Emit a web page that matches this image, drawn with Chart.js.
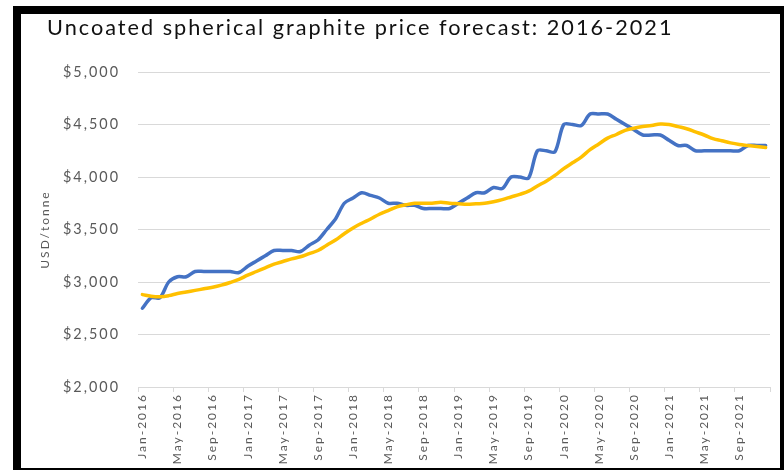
<!DOCTYPE html>
<html><head><meta charset="utf-8">
<script src="https://cdn.jsdelivr.net/npm/chart.js@4.4.0/dist/chart.umd.min.js"></script>
<style>
html,body{margin:0;padding:0;background:#fff;overflow:hidden;}
#wrap{position:relative;width:784px;height:470px;}
#frame{position:absolute;left:13px;top:6px;width:759px;height:454px;border:8px solid #000;pointer-events:none;}
canvas{display:block;}
</style></head><body>
<div id="wrap"><canvas id="c" width="784" height="470"></canvas><div id="frame"></div></div>
<script>
const titleText = 'Uncoated spherical graphite price forecast: 2016-2021';
const yAxisTitle = 'USD/tonne';
const months = [
 'Jan-2016','Feb-2016','Mar-2016','Apr-2016','May-2016','Jun-2016','Jul-2016','Aug-2016','Sep-2016','Oct-2016','Nov-2016','Dec-2016',
 'Jan-2017','Feb-2017','Mar-2017','Apr-2017','May-2017','Jun-2017','Jul-2017','Aug-2017','Sep-2017','Oct-2017','Nov-2017','Dec-2017',
 'Jan-2018','Feb-2018','Mar-2018','Apr-2018','May-2018','Jun-2018','Jul-2018','Aug-2018','Sep-2018','Oct-2018','Nov-2018','Dec-2018',
 'Jan-2019','Feb-2019','Mar-2019','Apr-2019','May-2019','Jun-2019','Jul-2019','Aug-2019','Sep-2019','Oct-2019','Nov-2019','Dec-2019',
 'Jan-2020','Feb-2020','Mar-2020','Apr-2020','May-2020','Jun-2020','Jul-2020','Aug-2020','Sep-2020','Oct-2020','Nov-2020','Dec-2020',
 'Jan-2021','Feb-2021','Mar-2021','Apr-2021','May-2021','Jun-2021','Jul-2021','Aug-2021','Sep-2021','Oct-2021','Nov-2021','Dec-2021'
];
const priceSeries = [
 2750,2850,2850,3000,3050,3050,3100,3100,3100,3100,3100,3090,
 3150,3200,3250,3300,3300,3300,3290,3350,3400,3500,3600,3750,
 3800,3850,3825,3800,3750,3750,3730,3730,3700,3700,3700,3700,
 3750,3800,3850,3850,3900,3890,4000,4000,3990,4250,4250,4240,
 4500,4500,4490,4600,4600,4600,4550,4500,4450,4400,4400,4400,
 4350,4300,4300,4250,4250,4250,4250,4250,4250,4300,4300,4300
];
const trendSeries = [
 2880,2865,2860,2870,2890,2905,2920,2935,2950,2970,2995,3025,
 3065,3100,3135,3170,3195,3220,3240,3270,3300,3350,3400,3460,
 3515,3560,3600,3645,3680,3715,3735,3750,3750,3750,3760,3750,
 3745,3740,3745,3750,3765,3785,3810,3835,3865,3915,3960,4015,
 4080,4135,4190,4260,4315,4370,4405,4445,4465,4480,4490,4505,
 4500,4480,4460,4430,4400,4365,4345,4325,4310,4300,4290,4280
];
const yMin = 2000, yMax = 5000, yStep = 500;
const labelEvery = 4;

const spacingPlugin = {
  id: 'textSpacing',
  beforeDraw(chart) { chart.ctx.letterSpacing = '2px'; }
};

new Chart(document.getElementById('c'), {
  type: 'line',
  data: {
    labels: months,
    datasets: [
      { label: 'Price', data: priceSeries, borderColor: '#4472C4', borderWidth: 3.5,
        pointRadius: 0, tension: 0.3, fill: false, order: 2, borderCapStyle: 'round', borderJoinStyle: 'round' },
      { label: 'Trend', data: trendSeries, borderColor: '#FFC000', borderWidth: 3.5,
        pointRadius: 0, tension: 0.4, fill: false, order: 1, borderCapStyle: 'round', borderJoinStyle: 'round' }
    ]
  },
  options: {
    responsive: false,
    animation: false,
    layout: { padding: { left: 47, right: 14, top: 0, bottom: 0 } },
    plugins: {
      legend: { display: false },
      tooltip: { enabled: false },
      title: {
        display: true, text: titleText, align: 'start', color: '#111111',
        font: { family: 'Lato', size: 21.7, weight: 'normal' },
        padding: { top: 14.5, bottom: 31.46 }
      }
    },
    scales: {
      x: {
        offset: true,
        afterFit: (s) => { s.height = 83; },
        grid: {
          offset: true, drawOnChartArea: false, drawTicks: true, tickLength: 5,
          color: (ctx) => (ctx.index === undefined || ctx.index % labelEvery === 0) ? '#d9d9d9' : 'rgba(0,0,0,0)'
        },
        border: { display: true, color: '#d9d9d9', width: 1 },
        ticks: {
          autoSkip: false, minRotation: 90, maxRotation: 90, padding: 1,
          color: '#595959', font: { family: 'Lato', size: 12 },
          callback: (v, i) => (i % labelEvery === 0 ? months[i] : '')
        }
      },
      y: {
        min: yMin, max: yMax,
        afterFit: (s) => { s.width = 91; },
        grid: { color: '#d9d9d9', lineWidth: 1, drawTicks: false },
        border: { display: false },
        ticks: {
          stepSize: yStep, padding: 18, color: '#595959',
          font: { family: 'Lato', size: 14.4 },
          callback: (v) => '$' + Number(v).toLocaleString('en-US')
        },
        title: {
          display: true, text: yAxisTitle, color: '#595959',
          font: { family: 'Lato', size: 12 },
          padding: { top: -9.2, bottom: 0 }
        }
      }
    }
  },
  plugins: [spacingPlugin]
});
</script>
</body></html>
